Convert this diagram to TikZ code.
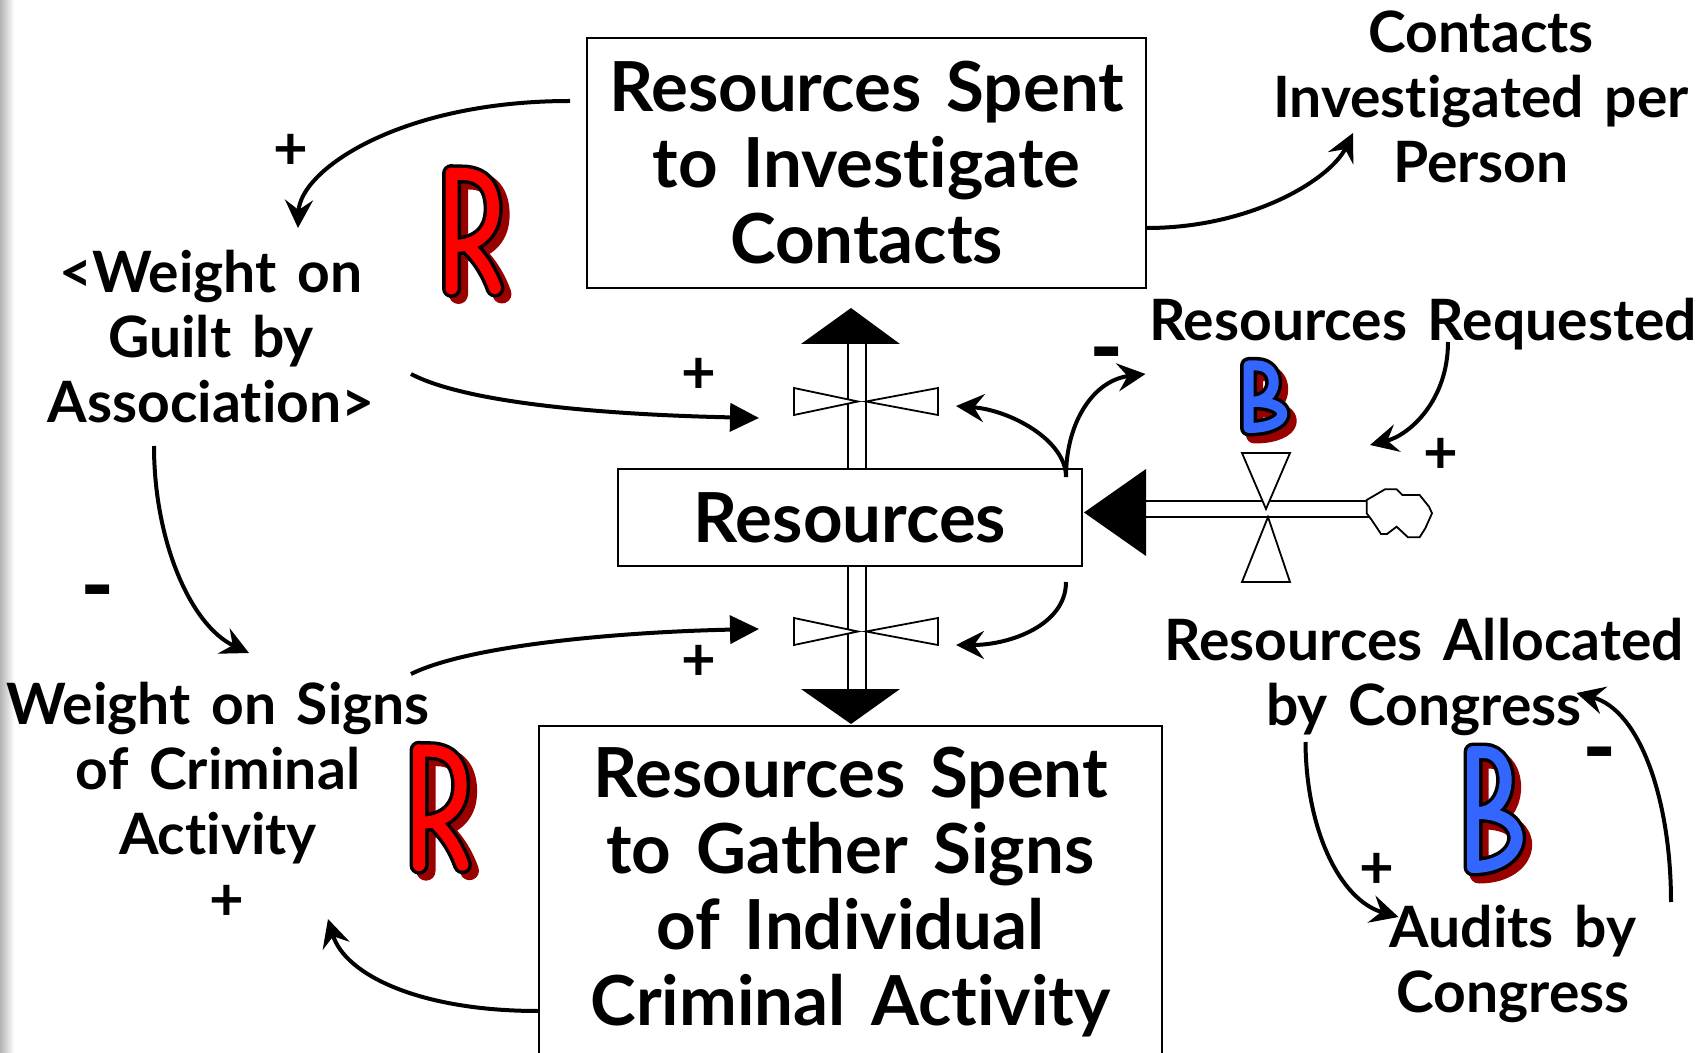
\documentclass[tikz,border=0pt]{standalone}
\usepackage{fontspec}
\setmainfont{Lato}[WordSpace=1.5, Ligatures=NoCommon]
\usetikzlibrary{arrows.meta,calc}
\definecolor{loopred}{HTML}{FF0000}
\definecolor{loopblue}{HTML}{3366FF}
\definecolor{shadowred}{HTML}{990000}
\newcommand\boxfont{\fontsize{34.5pt}{38pt}\selectfont\bfseries}
\newcommand\lblfont{\fontsize{28.5pt}{32.5pt}\selectfont\bfseries}
\newcommand\polfont{\fontsize{30pt}{30pt}\selectfont\bfseries}
\newcommand\minfont{\fontsize{46pt}{46pt}\selectfont\bfseries}
\tikzset{
  box/.style={draw, line width=1pt, inner sep=0pt, align=center, font=\boxfont},
  lbl/.style={align=center, inner sep=0pt, font=\lblfont},
  pol/.style={inner sep=0pt, font=\polfont},
  minus/.style={inner sep=0pt, font=\minfont},
  link/.style={line width=2pt, -{Stealth[length=14pt,width=14pt,inset=5pt]}},
  flowlink/.style={line width=2pt, -{Triangle[length=14.5pt,width=14pt]}},
  pipe/.style={line width=0.9pt},
  valve/.style={draw, line width=0.9pt, fill=white, line join=miter},
  glyphouter/.style={line width=9.5pt, line cap=round, line join=round},
  glyphinner/.style={line width=6pt, line cap=round, line join=round},
  pics/Rglyph/.style={code={
    \begin{scope}[shift={(7,6)}]
      \draw[shadowred, glyphouter] (9.5,9.5) -- (9.5,124.5) (9.5,10) -- (20,10) .. controls (46,10) and (52,30) .. (51,48) .. controls (50,68) and (36,82) .. (11,82) (28,84) .. controls (40,96) and (48,110) .. (53,124);
    \end{scope}
    \draw[black, glyphouter] (9.5,9.5) -- (9.5,124.5) (9.5,10) -- (20,10) .. controls (46,10) and (52,30) .. (51,48) .. controls (50,68) and (36,82) .. (11,82) (28,84) .. controls (40,96) and (48,110) .. (53,124);
    \draw[loopred, glyphinner] (9.5,9.5) -- (9.5,124.5) (9.5,10) -- (20,10) .. controls (46,10) and (52,30) .. (51,48) .. controls (50,68) and (36,82) .. (11,82) (28,84) .. controls (40,96) and (48,110) .. (53,124);
  }},
  pics/Bglyph/.style n args={5}{code={
    \begin{scope}[shift={(6,7)}]
      \draw[shadowred, line width=#4, line cap=round, line join=round] (0,0) -- (0,#2) (0,0) -- ({0.25*#1},0) .. controls ({0.93*#1},0) and ({0.93*#1},{#3*#2}) .. ({0.1*#1},{#3*#2}) .. controls ({1.39*#1},{#3*#2}) and ({1.22*#1},#2) .. (0,#2);
    \end{scope}
    \draw[black, line width=#4, line cap=round, line join=round] (0,0) -- (0,#2) (0,0) -- ({0.25*#1},0) .. controls ({0.93*#1},0) and ({0.93*#1},{#3*#2}) .. ({0.1*#1},{#3*#2}) .. controls ({1.39*#1},{#3*#2}) and ({1.22*#1},#2) .. (0,#2);
    \draw[loopblue, line width=#5, line cap=round, line join=round] (0,0) -- (0,#2) (0,0) -- ({0.25*#1},0) .. controls ({0.93*#1},0) and ({0.93*#1},{#3*#2}) .. ({0.1*#1},{#3*#2}) .. controls ({1.39*#1},{#3*#2}) and ({1.22*#1},#2) .. (0,#2);
  }},
}
\begin{document}
\begin{tikzpicture}[x=0.5pt,y=-0.5pt]
\useasboundingbox (0,0) rectangle (1704,1053);
\clip (0,0) rectangle (1704,1053);
\fill[white] (0,0) rectangle (1704,1053);
\shade[left color=black!30, right color=white] (0,0) rectangle (14,1053);

% stock and flow pipes
\draw[pipe] (848,344) -- (848,469) (866,344) -- (866,469);
\draw[pipe] (848,566) -- (848,689) (866,566) -- (866,689);
\draw[pipe] (1146,501) -- (1367,501) (1146,517) -- (1385,517);
\fill (801,344) -- (900,344) -- (851,308) -- cycle;
\fill (801,689) -- (900,689) -- (851,724) -- cycle;
\fill (1146,469) -- (1146,556) -- (1084,512.5) -- cycle;

% valves
\draw[valve] (794,388) -- (794,415) -- (858,401.5) -- cycle;
\draw[valve] (938,388) -- (938,415) -- (866,401.5) -- cycle;
\draw[valve] (794,618) -- (794,645) -- (858,631.5) -- cycle;
\draw[valve] (938,618) -- (938,645) -- (866,631.5) -- cycle;
\draw[valve] (1242,453) -- (1290,453) -- (1266,509) -- cycle;
\draw[valve] (1242,582) -- (1290,582) -- (1268,517) -- cycle;

% cloud
\draw[line width=0.9pt, fill=white] (1366.7,500) -- (1385,489.3) -- (1396.6,489.3) -- (1402.3,495) -- (1419.6,495) -- (1429,506.7) -- (1432,513.3) -- (1425.3,528.3) -- (1419.6,537.3) -- (1408,537.3) -- (1396.6,526.7) -- (1387,534) -- (1381,534) -- (1371.7,520) -- (1366.7,513.3) -- cycle;

% boxes
\node[box, minimum width=279.5pt, minimum height=125pt] (topbox) at (866.5,163) {Resources Spent\\to Investigate\\Contacts};
\node[box, minimum width=232pt, minimum height=48.5pt] (resbox) at (850,517.5) {Resources};
\node[box, minimum width=311.5pt, minimum height=166pt] (botbox) at (850.5,892) {Resources Spent\\to Gather Signs\\of Individual\\Criminal Activity};

% labels
\node[lbl] (guilt) at (211,337) {<Weight on\\Guilt by\\Association>};
\node[lbl] (signs) at (218,773) {Weight on Signs\\of Criminal\\Activity};
\node[lbl] (contacts) at (1481,97) {Contacts\\Investigated per\\Person};
\node[lbl] (requested) at (1423,324) {Resources Requested};
\node[lbl] (allocated) at (1424,677) {Resources Allocated\\by Congress};
\node[lbl] (audits) at (1513,964) {Audits by\\Congress};

% loop letters
\pic at (442,164) {Rglyph};
\pic at (409.5,740.7) {Rglyph};
\pic at (1248.5,365.5) {Bglyph={34}{62.5}{0.58}{8.5pt}{5pt}};
\pic at (1473,752) {Bglyph={44}{115}{0.53}{9.5pt}{6pt}};

% connector ports
\coordinate (c1s) at (570,101);
\coordinate (c1e) at (298,228);
\coordinate (c2s) at (411,374);
\coordinate (vtl) at (759,418);
\coordinate (c3s) at (154,446);
\coordinate (c3e) at (249,653);
\coordinate (c4s) at (411,674);
\coordinate (vbl) at (759,629);
\coordinate (c5s) at (538,1011);
\coordinate (c5e) at (328,919);
\coordinate (c6s) at (1147,228);
\coordinate (c6e) at (1353,133);
\coordinate (c7s) at (1066,477);
\coordinate (vtr) at (956,406);
\coordinate (c8e) at (1145.5,374);
\coordinate (c9s) at (1066,582);
\coordinate (vbr) at (956,645);
\coordinate (c10s) at (1448,342);
\coordinate (c10e) at (1370,445);
\coordinate (c11s) at (1305.5,742);
\coordinate (c11e) at (1398.5,917);
\coordinate (c12s) at (1671,902);
\coordinate (c12e) at (1576.5,693);

% connectors
\draw[link] (c1s) .. controls (400,101) and (300,170) .. (c1e);
\draw[flowlink] (c2s) .. controls (470,405) and (620,415) .. (vtl);
\draw[link] (c3s) .. controls (154,540) and (190,625) .. (c3e);
\draw[flowlink] (c4s) .. controls (470,645) and (620,632) .. (vbl);
\draw[link] (c5s) .. controls (420,1011) and (345,975) .. (c5e);
\draw[link] (c6s) .. controls (1250,228) and (1330,180) .. (c6e);
\draw[link] (c7s) .. controls (1066,440) and (1010,410) .. (vtr);
\draw[link] (c7s) .. controls (1066,420) and (1095,380) .. (c8e);
\draw[link] (c9s) .. controls (1066,625) and (1010,645) .. (vbr);
\draw[link] (c10s) .. controls (1448,400) and (1410,435) .. (c10e);
\draw[link] (c11s) .. controls (1306,830) and (1340,900) .. (c11e);
\draw[link] (c12s) .. controls (1671,800) and (1640,710) .. (c12e);

% polarities
\node[pol] (p1) at (291,152) {+};
\node[pol] (p2) at (699,376) {+};
\node[minus] (p3) at (98,601) {-};
\node[pol] (p4) at (699,663) {+};
\node[pol] (p5) at (227,903) {+};
\node[minus] (p6) at (1107,363) {-};
\node[pol] (p7) at (1441,456) {+};
\node[pol] (p8) at (1377,871) {+};
\node[minus] (p9) at (1600,763) {-};
\end{tikzpicture}
\end{document}
